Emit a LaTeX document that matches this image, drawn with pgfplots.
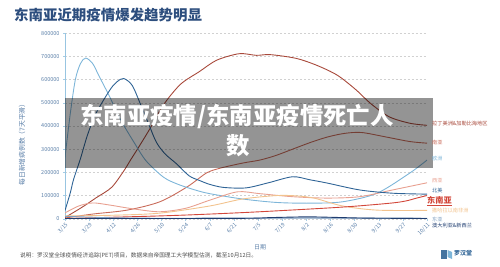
\documentclass[border=0pt]{standalone}
\usepackage{fontspec}
\setmainfont{Noto Sans CJK SC}
\usepackage{pgfplots}
\pgfplotsset{compat=1.18}
\definecolor{cLA}{HTML}{A8493B}
\definecolor{cSA}{HTML}{C96B5A}
\definecolor{cEU}{HTML}{7EB6D9}
\definecolor{cWA}{HTML}{E8A090}
\definecolor{cNA}{HTML}{2F6496}
\definecolor{cSEA}{HTML}{D2473A}
\definecolor{cSSA}{HTML}{F2C38E}
\definecolor{cEA}{HTML}{7F9FC0}
\definecolor{cAU}{HTML}{1F3D70}
\definecolor{tick}{HTML}{5A7FA8}
\definecolor{titleblue}{HTML}{2D4E7E}
\begin{document}
\begin{tikzpicture}[x=1bp,y=1bp]
\path[use as bounding box] (0,0) rectangle (500,266);
\begin{axis}[
  at={(65bp,47.3bp)}, anchor=south west,
  scale only axis, width=362bp, height=185.4bp,
  xmin=0, xmax=210, ymin=0, ymax=800000,
  axis x line*=bottom, axis y line*=left,
  x axis line style={color=cEA!60, line width=0.6pt},
  y axis line style={color=cEU!80, line width=0.6pt},
  xtick={0,14,...,210},
  xticklabels={3/15,3/29,4/12,4/26,5/10,5/24,6/7,6/21,7/5,7/19,8/2,8/16,8/30,9/13,9/27,10/11},
  ytick={0,100000,...,800000},
  scaled y ticks=false,
  /pgf/number format/assume math mode=true,
  yticklabel style={/pgf/number format/fixed,/pgf/number format/1000 sep={},font=\fontsize{5.5}{6}\selectfont,color=tick},
  xticklabel style={rotate=45,anchor=north east,font=\fontsize{5.5}{6}\selectfont,color=tick,inner sep=1pt},
  tick align=outside, major tick length=2bp,
  tick style={color=cEU!70, line width=0.4pt},
  ymajorgrids, grid style={dashed, color=black!18, line width=0.4pt, dash pattern=on 2pt off 2pt},
  every axis plot/.append style={line width=0.9pt, smooth, no markers},
]
% Latin America & Caribbean
\addplot[cLA] coordinates {(0,5000)(10,50000)(18,90000)(27,135000)(34,205000)(38,253000)(42,300000)(49,385000)(57,490000)(67,580000)(78,635000)(88,684000)(101,712000)(111,705000)(119,708000)(134,692000)(146,662000)(158,619000)(169,555000)(177,499000)(188,440000)(200,412000)(210,403000)};
% South Asia
\addplot[cSA] coordinates {(0,3000)(16,20000)(36,37000)(55,73000)(71,138000)(82,197000)(90,218000)(103,240000)(113,253000)(122,272000)(132,300000)(142,328000)(152,352000)(162,368000)(172,372000)(186,353000)(200,333000)(210,326000)};
% Europe
\addplot[cEU] coordinates {(0,265000)(3,450000)(6,600000)(9,670000)(12,693000)(16,670000)(20,612000)(26,525000)(32,430000)(40,330000)(47,250000)(57,180000)(65,150000)(75,125000)(84,108000)(103,85000)(123,70000)(142,67000)(161,73000)(181,110000)(200,197000)(210,253000)};
% West Asia
\addplot[cWA] coordinates {(0,25000)(8,55000)(16,68000)(25,60000)(40,42000)(55,30000)(70,45000)(84,80000)(100,116000)(113,108000)(132,95000)(152,89000)(171,95000)(190,124000)(210,155000)};
% North America
\addplot[cNA] coordinates {(0,35000)(3,110000)(5,170000)(9,260000)(13,360000)(18,455000)(26,555000)(30,590000)(34,605000)(39,575000)(44,490000)(49,400000)(53,330000)(58,280000)(65,235000)(72,185000)(78,165000)(84,148000)(92,135000)(105,133000)(118,155000)(132,181000)(142,168000)(152,154000)(171,124000)(190,110000)(210,106000)};
% Sub-Saharan Africa
\addplot[cSSA] coordinates {(0,12000)(28,15000)(55,24000)(84,55000)(103,85000)(123,100000)(135,98000)(145,88000)(161,55000)(181,37000)(210,36000)};
% Southeast Asia
\addplot[cSEA] coordinates {(0,1000)(55,12000)(84,20000)(113,30000)(152,46000)(170,55000)(190,68000)(198,77000)(204,89000)(210,100000)};
% East Asia
\addplot[cEA] coordinates {(0,10000)(14,7000)(28,4000)(56,2000)(112,3000)(140,4000)(168,3000)(210,2000)};
% Australia & NZ
\addplot[cAU] coordinates {(0,500)(100,1500)(120,5000)(140,8000)(155,6000)(175,2500)(210,1000)};
\end{axis}
% overlay
\fill[black, opacity=0.42] (65,98) rectangle (433,168);
\node[text=white, font=\fontsize{23.5}{26}\selectfont\bfseries] at (237,149) {东南亚疫情/东南亚疫情死亡人};
\node[text=white, font=\fontsize{23.5}{26}\selectfont\bfseries] at (238,120) {数};
% title
\node[anchor=west, text=titleblue, font=\fontsize{14.5}{16}\selectfont\bfseries, inner sep=0pt] at (14,251) {东南亚近期疫情爆发趋势明显};
% y label
\node[rotate=90, text=tick, font=\fontsize{6.8}{8}\selectfont] at (22,123) {每日新增病例数（7天平滑）};
% x label
\node[text=tick, font=\fontsize{6}{7}\selectfont] at (260,19) {日期};
% footnote
\node[anchor=west, text=black!70, font=\fontsize{5.7}{7}\selectfont, inner sep=0pt] at (20,10) {说明：罗汉堂全球疫情经济追踪(PET)项目，数据来自帝国理工大学模型估测，截至10月12日。};
% logo
\fill[cNA!90] (441,16) rectangle (447,7);
\fill[cEU] (447.5,16) -- (452,14) -- (452,7) -- (447.5,9) -- cycle;
\node[anchor=west, text=cNA, font=\fontsize{6}{7}\selectfont\bfseries, inner sep=0pt] at (454,13) {罗汉堂};
% series labels
\begin{scope}[every node/.style={anchor=west, inner sep=0pt, font=\fontsize{5.2}{6}\selectfont}]
\node[text=cLA] at (432,142) {拉丁美洲\&加勒比海地区};
\node[text=cSA] at (432,123) {南亚};
\node[text=cEU] at (432,107) {欧洲};
\node[text=cWA] at (432,85.3) {西亚};
\node[text=cNA] at (432,75.5) {北美};
\node[text=cSSA] at (432,55.3) {撒哈拉以南非洲};
\node[text=cEA] at (432,46.3) {东亚};
\node[text=cAU] at (432,40) {澳大利亚\&新西兰};
\end{scope}
\node[anchor=west, inner sep=0pt, text=cSEA, font=\fontsize{8.2}{9}\selectfont\bfseries] (sea) at (427,65.5) {东南亚};
\draw[cSEA, line width=0.5pt] ([yshift=-0.8]sea.south west) -- ([yshift=-0.8]sea.south east);
\end{tikzpicture}
\end{document}
